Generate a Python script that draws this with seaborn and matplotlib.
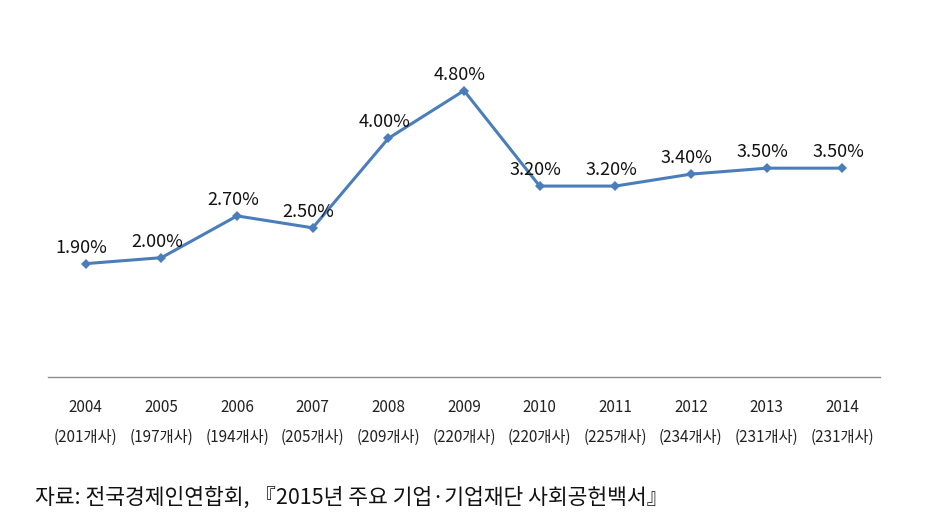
import numpy as np
import pandas as pd
import matplotlib
matplotlib.use("Agg")
import matplotlib.pyplot as plt
import seaborn as sns

years = ["2004", "2005", "2006", "2007", "2008", "2009", "2010", "2011", "2012", "2013", "2014"]
companies = [201, 197, 194, 205, 209, 220, 220, 225, 234, 231, 231]
ratio = [1.90, 2.00, 2.70, 2.50, 4.00, 4.80, 3.20, 3.20, 3.40, 3.50, 3.50]
source = "자료: 전국경제인연합회, 『2015년 주요 기업·기업재단 사회공헌백서』"

sns.set_theme(style="white")
plt.rcParams['font.family'] = ['Noto Sans CJK KR', 'DejaVu Sans']

df = pd.DataFrame({"pos": np.arange(len(years)), "ratio": ratio})

fig = plt.figure(figsize=(9.32, 5.26), dpi=100)
ax = fig.add_axes([48 / 932, 149 / 526, 832 / 932, 358 / 526])

sns.lineplot(data=df, x="pos", y="ratio", ax=ax, color="#4A7EBB", linewidth=2.2,
             marker="D", markersize=5.5, markeredgewidth=0)

# value labels above each point
for x, y in zip(df["pos"], df["ratio"]):
    ax.annotate("{:.2f}%".format(y), (x, y), xytext=(-3, 5), textcoords="offset points",
                ha="center", va="bottom", fontsize=13, color="#111111")

ax.set_xlim(-0.5, len(years) - 0.5)
ax.set_ylim(0, 6)
ax.set_xticks(df["pos"])
ax.set_xticklabels(["{}\n({}개사)".format(y, c) for y, c in zip(years, companies)],
                   fontsize=11, color="#222222", linespacing=2.0)
ax.tick_params(axis="x", length=0, pad=16)
ax.set_yticks([])
ax.set_xlabel("")
ax.set_ylabel("")
for s in ["top", "left", "right"]:
    ax.spines[s].set_visible(False)
ax.spines["bottom"].set_color("#8C8C8C")
ax.spines["bottom"].set_linewidth(1)

fig.text(35 / 932, 1 - 498 / 526, source, fontsize=15.5, color="#111111", va="center", ha="left")

fig.savefig("out.png", dpi=100, facecolor="white")
